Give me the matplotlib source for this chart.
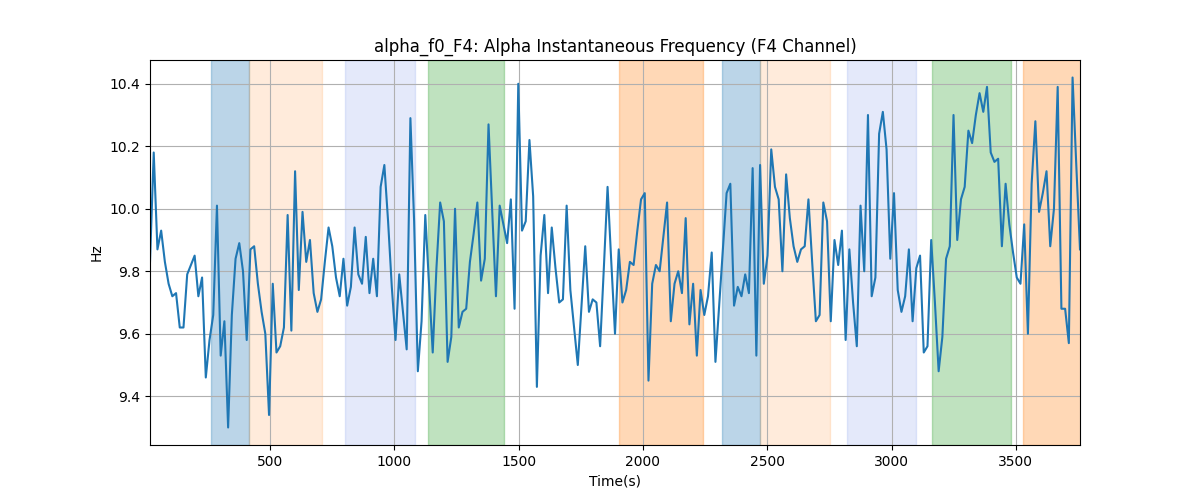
import matplotlib
matplotlib.use("Agg")
import matplotlib.pyplot as plt
import numpy as np

# alpha instantaneous frequency, F4 channel (Hz), one value per window
freq = [
    9.83, 10.18, 9.87, 9.93, 9.83, 9.76, 9.72, 9.73, 9.62, 9.62,
    9.79, 9.82, 9.85, 9.72, 9.78, 9.46, 9.58, 9.66, 10.01, 9.53,
    9.64, 9.30, 9.66, 9.84, 9.89, 9.80, 9.58, 9.87, 9.88, 9.76,
    9.67, 9.60, 9.34, 9.76, 9.54, 9.56, 9.62, 9.98, 9.61, 10.12,
    9.74, 9.99, 9.83, 9.90, 9.73, 9.67, 9.71, 9.83, 9.94, 9.88,
    9.78, 9.72, 9.84, 9.69, 9.75, 9.94, 9.79, 9.76, 9.91, 9.73,
    9.84, 9.72, 10.07, 10.14, 9.96, 9.75, 9.58, 9.79, 9.67, 9.55,
    10.29, 9.96, 9.48, 9.64, 9.98, 9.76, 9.54, 9.81, 10.02, 9.96,
    9.51, 9.59, 10.00, 9.62, 9.67, 9.68, 9.83, 9.92, 10.02, 9.77,
    9.84, 10.27, 9.99, 9.72, 10.01, 9.95, 9.89, 10.03, 9.68, 10.40,
    9.93, 9.96, 10.22, 10.04, 9.43, 9.85, 9.98, 9.73, 9.94, 9.81,
    9.70, 9.71, 10.01, 9.74, 9.62, 9.50, 9.69, 9.88, 9.67, 9.71,
    9.70, 9.56, 9.81, 10.07, 9.83, 9.60, 9.87, 9.70, 9.74, 9.83,
    9.82, 9.93, 10.03, 10.05, 9.45, 9.76, 9.82, 9.80, 9.91, 10.02,
    9.64, 9.76, 9.80, 9.73, 9.97, 9.63, 9.76, 9.53, 9.74, 9.66,
    9.72, 9.86, 9.51, 9.69, 9.87, 10.05, 10.08, 9.69, 9.75, 9.72,
    9.79, 9.73, 10.13, 9.53, 10.14, 9.76, 9.85, 10.19, 10.07, 10.03,
    9.80, 10.11, 9.97, 9.88, 9.83, 9.87, 9.88, 10.03, 9.83, 9.64,
    9.66, 10.02, 9.96, 9.64, 9.90, 9.82, 9.93, 9.58, 9.87, 9.70,
    9.56, 10.01, 9.80, 10.30, 9.72, 9.78, 10.24, 10.31, 10.19, 9.84,
    10.05, 9.74, 9.67, 9.72, 9.87, 9.64, 9.81, 9.85, 9.54, 9.56,
    9.90, 9.70, 9.48, 9.59, 9.84, 9.88, 10.30, 9.90, 10.03, 10.07,
    10.25, 10.21, 10.30, 10.37, 10.31, 10.39, 10.18, 10.15, 10.16, 9.88,
    10.08, 9.95, 9.86, 9.78, 9.76, 9.95, 9.60, 10.08, 10.28, 9.99,
    10.05, 10.12, 9.88, 10.00, 10.39, 9.68, 9.68, 9.57, 10.42, 10.14,
    9.87,
]
t_start, t_end = 18, 3758

# shaded segments: (start, end, colour, alpha)
span_start = [264, 418, 803, 1137, 1906, 2318, 2473, 2820, 3162, 3529]
span_end = [418, 709, 1084, 1442, 2243, 2473, 2752, 3100, 3479, 3770]
span_color = ["tab:blue", "tab:orange", "royalblue", "tab:green", "tab:orange",
              "tab:blue", "tab:orange", "royalblue", "tab:green", "tab:orange"]
span_alpha = [0.3, 0.15, 0.14, 0.3, 0.3, 0.3, 0.15, 0.14, 0.3, 0.3]

time = np.linspace(t_start, t_end, len(freq))

fig, ax = plt.subplots(figsize=(12, 5), dpi=100)
for s, e, c, a in zip(span_start, span_end, span_color, span_alpha):
    ax.axvspan(s, e, color=c, alpha=a)
ax.plot(time, freq, color="tab:blue", linewidth=1.5)
ax.set_xlim(time[0], time[-1])
ax.set_title("alpha_f0_F4: Alpha Instantaneous Frequency (F4 Channel)")
ax.set_xlabel("Time(s)")
ax.set_ylabel("Hz")
ax.grid(True)
fig.savefig("out.png")
